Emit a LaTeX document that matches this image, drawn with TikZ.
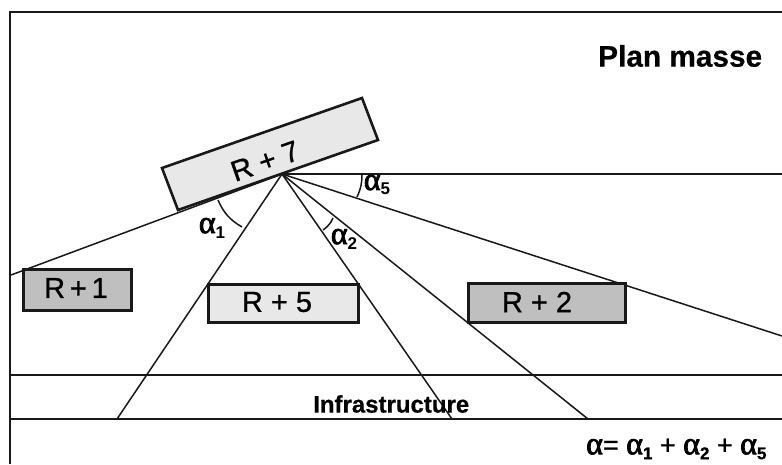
\documentclass[tikz,border=0pt]{standalone}
\usepackage{fontspec}
\setmainfont{Liberation Sans}
\newfontfamily\grk[FakeBold=2.5]{Liberation Serif}
\newfontfamily\semi[FakeBold=0.9]{Liberation Sans}
\newfontfamily\heavy[FakeBold=0.5]{Liberation Sans Bold}
\newcommand{\alp}[1]{{\grk\fontsize{32}{32}\selectfont α}\raisebox{-5pt}{\fontsize{17}{17}\selectfont\bfseries #1}}
\tikzset{
  thinl/.style={line width=1.5pt,black!90},
  hline/.style={line width=1.7pt,black!90},
  bld/.style={draw=black!90,inner sep=0pt,line width=2.6pt},
  lab/.style={inner sep=0pt,font=\semi\fontsize{29}{30}\selectfont},
}
\begin{document}
\begin{tikzpicture}[x=1pt,y=-1pt]
\useasboundingbox (0,0) rectangle (782,464);
\fill[white] (0,0) rectangle (782,464);
% free ends
\coordinate (apex) at (282,174);
\coordinate (e1) at (11,275);
\coordinate (e2) at (117,419);
\coordinate (e3) at (452,419);
\coordinate (e4) at (588,419);
\coordinate (e5) at (782,336);
\coordinate (e6) at (782,174);
\coordinate (tl) at (10,12);
\coordinate (tr) at (782,12);
\coordinate (bl) at (10,464);
\coordinate (h1a) at (10,375);
\coordinate (h1b) at (782,375);
\coordinate (h2a) at (10,419);
\coordinate (h2b) at (782,419);
% frame and road
\draw[hline] (bl) -- (tl) -- (tr);
\draw[hline] (h1a) -- (h1b);
\draw[hline] (h2a) -- (h2b);
% sight lines
\draw[thinl] (apex) -- (e1);
\draw[thinl] (apex) -- (e2);
\draw[thinl] (apex) -- (e3);
\draw[thinl] (apex) -- (e4);
\draw[thinl] (apex) -- (e5);
\draw[thinl] (apex) -- (e6);
% angle arcs
\coordinate (a1s) at (218,200);
\coordinate (a1e) at (242,227);
\coordinate (a2s) at (323,230);
\coordinate (a2e) at (333,218);
\coordinate (a5s) at (357,197);
\coordinate (a5e) at (362,175);
\draw[thinl] (a1s) to[bend right=18] (a1e);
\draw[thinl] (a2s) to[bend right=15] (a2e);
\draw[thinl] (a5s) to[bend right=12] (a5e);
% buildings
\node[bld,fill=black!25,minimum width=108pt,minimum height=41pt,anchor=north west] (r1) at (22,268) {};
\node[bld,fill=black!9,minimum width=150pt,minimum height=38pt,anchor=north west] (r5) at (207,283) {};
\node[bld,fill=black!25,minimum width=157pt,minimum height=39pt,anchor=north west] (r2) at (467,282) {};
\fill[black!9,draw=black!90,line width=2.6pt] (162,168) -- (362,98) -- (378,140) -- (178,210) -- cycle;
% labels
\node[lab] (t1) at (76,288) {R\,+\,1};
\node[lab] (t5) at (277,302) {R + 5};
\node[lab] (t2) at (537,302) {R + 2};
\node[lab,rotate=19.3] (t7) at (265,161) {R + 7};
\node[inner sep=0pt,anchor=west,font=\heavy\fontsize{29.8}{30}\selectfont] (plan) at (598,56) {Plan masse};
\node[inner sep=0pt,anchor=west,font=\heavy\fontsize{24}{25}\selectfont] (infra) at (313,404) {Infrastructure};
\node[inner sep=0pt] (al1) at (212,228) {\alp{1}};
\node[inner sep=0pt] (al2) at (344,239) {\alp{2}};
\node[inner sep=0pt] (al5) at (377,185) {\alp{5}};
\node[inner sep=0pt,anchor=west,font=\semi\fontsize{27}{28}\selectfont] (form) at (586,449) {{\grk\fontsize{32}{32}\selectfont α}= \alp{1} + \alp{2} + \alp{5}};
\end{tikzpicture}
\end{document}
